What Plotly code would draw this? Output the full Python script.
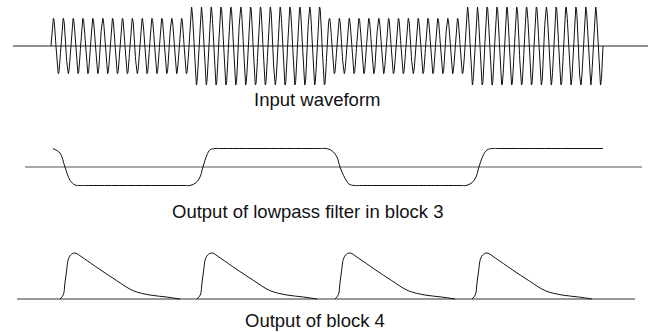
import numpy as np
import plotly.graph_objects as go

# ---------------- data ----------------
# Input FSK waveform: four bit intervals (time measured in bit periods)
bit_edges = [0.0, 1.0, 2.0, 3.0, 4.0]
bit_amplitude = [0.71, 1.0, 0.71, 1.0]
cycles_per_bit = 14

# Output of lowpass filter in block 3 (key points, time in bit periods)
lp_t = [0.014, 0.065, 0.101, 0.138, 0.174, 0.210, 0.250,
        0.970, 1.007, 1.051, 1.080, 1.101, 1.130, 1.152, 1.188, 1.225,
        1.955, 1.993, 2.036, 2.072, 2.094, 2.130, 2.159, 2.196, 2.235,
        2.970, 3.007, 3.051, 3.080, 3.101, 3.130, 3.159, 3.196, 3.235, 4.0]
lp_v = [1.0, 0.76, 0.0, -0.72, -0.97, -1.0, -1.0,
        -1.0, -1.0, -0.85, -0.54, 0.0, 0.65, 0.93, 1.0, 1.0,
        1.0, 1.0, 0.88, 0.54, 0.0, -0.6, -0.92, -1.0, -1.0,
        -1.0, -1.0, -0.85, -0.54, 0.0, 0.6, 0.92, 1.0, 1.0, 1.0]

# Output of block 4: one pulse shape repeated at each transition
pulse_starts = [0.065, 1.058, 2.058, 3.051]
pulse_dt = [0.0, 0.024, 0.036, 0.049, 0.060, 0.078, 0.109, 0.169,
            0.290, 0.411, 0.531, 0.652, 0.773, 0.870]
pulse_v = [0.0, 0.09, 0.35, 0.64, 0.86, 0.96, 1.0, 0.89,
           0.64, 0.40, 0.18, 0.087, 0.043, 0.0]

# extents of the reference (zero) lines of each trace
base1 = [-0.275, 4.326]
base2 = [-0.188, 4.283]
base3 = [-0.246, 4.232]

labels = ["Input waveform", "Output of lowpass filter in block 3", "Output of block 4"]

# ---------------- build traces ----------------
W, H = 650, 332
px0, ppb = 51.0, 138.0  # layout: pixel of t=0, pixels per bit

# input waveform (sine carrier with amplitude per bit)
t_in, v_in = [], []
for i in range(len(bit_amplitude)):
    t = np.linspace(bit_edges[i], bit_edges[i + 1], 600, endpoint=(i == len(bit_amplitude) - 1))
    t_in.append(t)
    v_in.append(bit_amplitude[i] * np.sin(2 * np.pi * cycles_per_bit * t))
t_in = np.concatenate(t_in)
v_in = np.concatenate(v_in)

# block 4 pulses
p_t, p_v = [], []
for s in pulse_starts:
    p_t += [s + d for d in pulse_dt] + [None]
    p_v += list(pulse_v) + [None]

fig = go.Figure()
ink = "#111111"
fig.add_trace(go.Scatter(x=base1, y=[0, 0], mode="lines", line=dict(color="#222", width=1.2),
                         yaxis="y", hoverinfo="skip"))
fig.add_trace(go.Scatter(x=t_in, y=v_in, mode="lines", line=dict(color=ink, width=1),
                         yaxis="y", hoverinfo="skip"))
fig.add_trace(go.Scatter(x=base2, y=[0, 0], mode="lines", line=dict(color="#555", width=1),
                         yaxis="y2", hoverinfo="skip"))
fig.add_trace(go.Scatter(x=lp_t, y=lp_v, mode="lines", line=dict(color=ink, width=1, shape="spline", smoothing=1),
                         yaxis="y2", hoverinfo="skip"))
fig.add_trace(go.Scatter(x=base3, y=[0, 0], mode="lines", line=dict(color="#333", width=1),
                         yaxis="y3", hoverinfo="skip"))
fig.add_trace(go.Scatter(x=p_t, y=p_v, mode="lines", line=dict(color=ink, width=1, shape="spline", smoothing=1),
                         yaxis="y3", hoverinfo="skip", connectgaps=False))


def yr(center_px, scale_px):
    return [-(H - center_px) / scale_px, center_px / scale_px]


hidden = dict(visible=False, showgrid=False, zeroline=False, fixedrange=True)
fig.update_layout(
    width=W, height=H,
    margin=dict(l=0, r=0, t=0, b=0),
    paper_bgcolor="white", plot_bgcolor="white",
    showlegend=False,
    xaxis=dict(range=[-px0 / ppb, (W - px0) / ppb], **hidden),
    yaxis=dict(range=yr(46, 39), domain=[0, 1], **hidden),
    yaxis2=dict(range=yr(167, 18.5), domain=[0, 1], overlaying="y", **hidden),
    yaxis3=dict(range=yr(299, 46), domain=[0, 1], overlaying="y", **hidden),
)

label_pos = [(317, 100), (307, 212), (315, 320)]
for txt, (x, y) in zip(labels, label_pos):
    fig.add_annotation(text=txt, x=x / W, y=1 - y / H, xref="paper", yref="paper",
                       showarrow=False, xanchor="center", yanchor="middle",
                       font=dict(family="Liberation Sans, Arial, sans-serif", size=18.5, color="#111"))

fig.write_html("out.html", config={"displayModeBar": False, "staticPlot": True},
               post_script="document.body.style.margin='0';document.body.style.overflow='hidden';")
